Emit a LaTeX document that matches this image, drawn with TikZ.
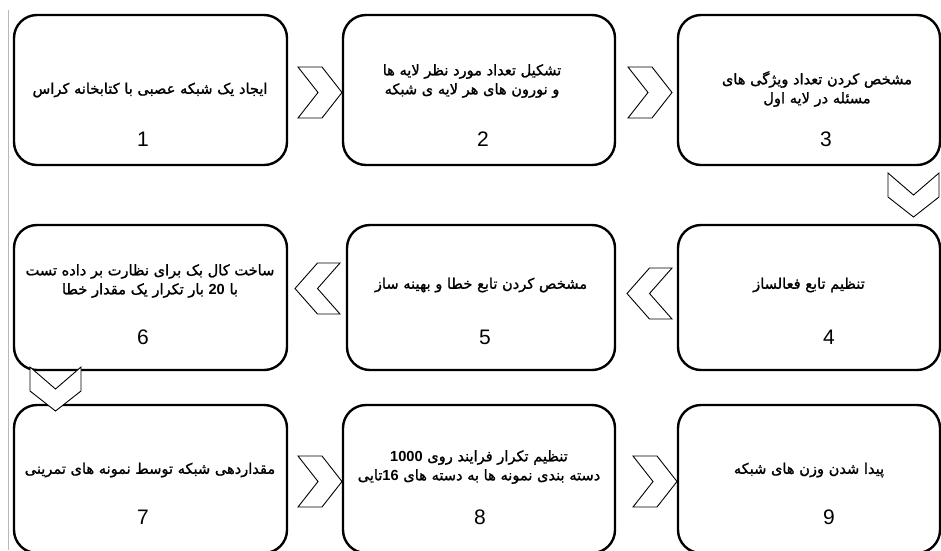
\documentclass[tikz,border=0pt]{standalone}
\usepackage{fontspec}
\TeXXeTstate=1
\newfontfamily\arabicfont[Script=Arabic,FakeBold=1.2,AutoFakeBold=0]{DejaVu Sans}
\newfontfamily\numfont{Liberation Sans}
\newcommand{\nb}[1]{\beginL{\numfont\bfseries #1}\endL}
\tikzset{
  stepbox/.style={draw=black, line width=2.4pt, rounded corners=23pt, fill=white, inner sep=0pt},
  ptext/.style={font=\arabicfont\fontsize{14.6}{19}\selectfont, align=center, inner sep=0pt},
  pnum/.style={font=\numfont\fontsize{21}{21}\selectfont, inner sep=0pt},
  chev/.style={draw=black, line width=0.9pt, line join=miter, fill=white},
}
\newcommand{\chevR}[2]{\draw[chev] (#1,#2) -- ++(24,0) -- ++(20,25.5) -- ++(-20,25.5) -- ++(-24,0) -- ++(20,-25.5) -- cycle;}
\newcommand{\chevL}[2]{\draw[chev] (#1+45,#2) -- ++(-22.5,0) -- ++(-22.5,25.5) -- ++(22.5,25.5) -- ++(22.5,0) -- ++(-22.5,-25.5) -- cycle;}
\newcommand{\chevD}[2]{\draw[chev] (#1,#2) -- ++(0,24) -- ++(25.5,20) -- ++(25.5,-20) -- ++(0,-24) -- ++(-25.5,22) -- cycle;}
\begin{document}
\begin{tikzpicture}[x=1pt,y=-1pt]
\useasboundingbox (0,0) rectangle (941,550);
\fill[white] (0,0) rectangle (941,550);
\draw[black!28, line width=1pt] (8,10) -- (8,550);

% row 1
\node[stepbox, minimum width=273pt, minimum height=150pt] (b1) at (150.5,90) {};
\node[stepbox, minimum width=272pt, minimum height=150pt] (b2) at (479,90) {};
\node[stepbox, minimum width=262pt, minimum height=150pt] (b3) at (809,90) {};
% row 2
\node[stepbox, minimum width=262pt, minimum height=145pt] (b4) at (809,297.5) {};
\node[stepbox, minimum width=268pt, minimum height=145pt] (b5) at (481,297.5) {};
\node[stepbox, minimum width=273pt, minimum height=145pt] (b6) at (150.5,297.5) {};
% row 3
\node[stepbox, minimum width=273pt, minimum height=148pt] (b7) at (150.5,479) {};
\node[stepbox, minimum width=272pt, minimum height=148pt] (b8) at (479,479) {};
\node[stepbox, minimum width=262pt, minimum height=148pt] (b9) at (809,479) {};

% chevrons
\chevR{298}{67}
\chevR{628}{67}
\chevD{888}{173}
\chevL{627}{268}
\chevL{295}{263}
\chevD{30}{367}
\chevR{298}{456}
\chevR{633}{456}

% texts
\node[ptext] (t1) at (150,90) {\beginR ایجاد یک شبکه عصبی با کتابخانه کراس\endR};
\node[ptext] (t2) at (472,81) {\beginR تشکیل تعداد مورد نظر لایه ها\endR\\\beginR و نورون های هر لایه ی شبکه\endR};
\node[ptext] (t3) at (817,89) {\beginR مشخص کردن تعداد ویژگی های\endR\\\beginR مسئله در لایه اول\endR};
\node[ptext] (t4) at (809,285) {\beginR تنظیم تابع فعالساز\endR};
\node[ptext] (t5) at (481,285) {\beginR مشخص کردن تابع خطا و بهینه ساز\endR};
\node[ptext] (t6) at (150,281) {\beginR ساخت کال بک برای نظارت بر داده تست\endR\\\beginR با \nb{20} بار تکرار یک مقدار خطا\endR};
\node[ptext] (t7) at (150,470) {\beginR مقداردهی شبکه توسط نمونه های تمرینی\endR};
\node[ptext] (t8) at (479,467) {\beginR تنظیم تکرار فرایند روی \nb{1000}\endR\\\beginR دسته بندی نمونه ها به دسته های \nb{16}تایی\endR};
\node[ptext] (t9) at (809,470) {\beginR پیدا شدن وزن های شبکه\endR};

% numbers
\node[pnum] (n1) at (143,139) {1};
\node[pnum] (n2) at (483,139) {2};
\node[pnum] (n3) at (826,139) {3};
\node[pnum] (n4) at (829,337) {4};
\node[pnum] (n5) at (485,337) {5};
\node[pnum] (n6) at (143,337) {6};
\node[pnum] (n7) at (143,517) {7};
\node[pnum] (n8) at (480,517) {8};
\node[pnum] (n9) at (829,517) {9};
\end{tikzpicture}
\end{document}
